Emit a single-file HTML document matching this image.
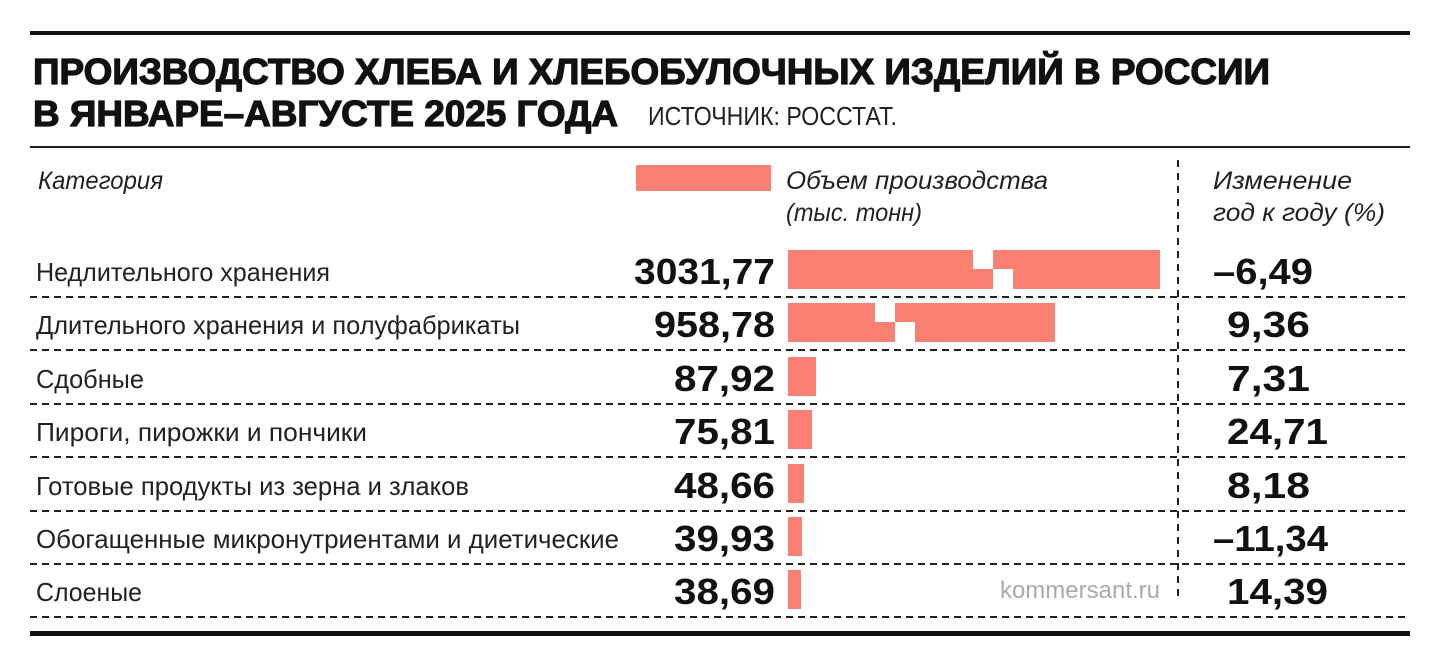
<!DOCTYPE html>
<html><head><meta charset="utf-8"><style>
html,body{margin:0;padding:0;background:#fff;}
svg{display:block;font-family:"Liberation Sans",sans-serif;}
</style></head><body>
<svg width="1440" height="665" viewBox="0 0 1440 665" xmlns="http://www.w3.org/2000/svg">
<rect x="30" y="31" width="1380" height="4" fill="#111"/>
<g font-weight="bold" font-size="36" fill="#111" stroke="#111" stroke-width="1.2">
<text x="33" y="84" textLength="1237" lengthAdjust="spacingAndGlyphs">ПРОИЗВОДСТВО ХЛЕБА И ХЛЕБОБУЛОЧНЫХ ИЗДЕЛИЙ В РОССИИ</text>
<text x="33" y="126" textLength="585" lengthAdjust="spacingAndGlyphs">В ЯНВАРЕ–АВГУСТЕ 2025 ГОДА</text>
</g>
<text x="648" y="125" font-size="26" fill="#222" textLength="249" lengthAdjust="spacingAndGlyphs">ИСТОЧНИК: РОССТАТ.</text>
<rect x="30" y="146" width="1380" height="2" fill="#222"/>
<g font-style="italic" font-size="25" fill="#222">
<text x="38" y="189" textLength="125" lengthAdjust="spacingAndGlyphs">Категория</text>
<text x="786" y="189" textLength="262" lengthAdjust="spacingAndGlyphs">Объем производства</text>
<text x="786" y="221" textLength="136" lengthAdjust="spacingAndGlyphs">(тыс. тонн)</text>
<text x="1213" y="189" textLength="139" lengthAdjust="spacingAndGlyphs">Изменение</text>
<text x="1213" y="221" textLength="172" lengthAdjust="spacingAndGlyphs">год к году (%)</text>
</g>
<rect x="636" y="165" width="135" height="26" fill="#f98072"/>
<line x1="1178" y1="160" x2="1178" y2="602" stroke="#222" stroke-width="2" stroke-dasharray="7,6"/>
<g stroke="#222" stroke-width="2" stroke-dasharray="7,5">
<line x1="30" y1="297" x2="1410" y2="297"/>
<line x1="30" y1="350" x2="1410" y2="350"/>
<line x1="30" y1="404" x2="1410" y2="404"/>
<line x1="30" y1="457" x2="1410" y2="457"/>
<line x1="30" y1="511" x2="1410" y2="511"/>
<line x1="30" y1="564" x2="1410" y2="564"/>
<line x1="30" y1="617" x2="1410" y2="617"/>
</g>
<rect x="30" y="631" width="1380" height="5" fill="#111"/>
<g fill="#f98072">
<rect x="788" y="250" width="372" height="39"/>
<rect x="788" y="303" width="267" height="39"/>
<rect x="788" y="357" width="28" height="39"/>
<rect x="788" y="410" width="24" height="39"/>
<rect x="788" y="464" width="16" height="39"/>
<rect x="788" y="517" width="14" height="39"/>
<rect x="788" y="570" width="13" height="39"/>
</g>
<g fill="#fff">
<rect x="973" y="250" width="20" height="19"/><rect x="993" y="269" width="20" height="20"/>
<rect x="875" y="303" width="20" height="19"/><rect x="895" y="322" width="20" height="20"/>
</g>
<g font-size="26" fill="#222">
<text x="36" y="281" textLength="294" lengthAdjust="spacingAndGlyphs">Недлительного хранения</text>
<text x="36" y="334" textLength="484" lengthAdjust="spacingAndGlyphs">Длительного хранения и полуфабрикаты</text>
<text x="36" y="388" textLength="108" lengthAdjust="spacingAndGlyphs">Сдобные</text>
<text x="36" y="441" textLength="331" lengthAdjust="spacingAndGlyphs">Пироги, пирожки и пончики</text>
<text x="36" y="495" textLength="433" lengthAdjust="spacingAndGlyphs">Готовые продукты из зерна и злаков</text>
<text x="36" y="548" textLength="583" lengthAdjust="spacingAndGlyphs">Обогащенные микронутриентами и диетические</text>
<text x="36" y="601" textLength="106" lengthAdjust="spacingAndGlyphs">Слоеные</text>
</g>
<g font-size="36" font-weight="bold" fill="#111">
<text x="634" y="284" textLength="141" lengthAdjust="spacingAndGlyphs">3031,77</text>
<text x="654" y="337" textLength="121" lengthAdjust="spacingAndGlyphs">958,78</text>
<text x="674" y="391" textLength="101" lengthAdjust="spacingAndGlyphs">87,92</text>
<text x="674" y="444" textLength="101" lengthAdjust="spacingAndGlyphs">75,81</text>
<text x="674" y="498" textLength="101" lengthAdjust="spacingAndGlyphs">48,66</text>
<text x="674" y="551" textLength="101" lengthAdjust="spacingAndGlyphs">39,93</text>
<text x="674" y="604" textLength="101" lengthAdjust="spacingAndGlyphs">38,69</text>
</g>
<g font-size="36" font-weight="bold" fill="#111">
<text x="1213" y="284" textLength="100" lengthAdjust="spacingAndGlyphs">–6,49</text>
<text x="1227" y="337" textLength="83" lengthAdjust="spacingAndGlyphs">9,36</text>
<text x="1227" y="391" textLength="83" lengthAdjust="spacingAndGlyphs">7,31</text>
<text x="1227" y="444" textLength="101" lengthAdjust="spacingAndGlyphs">24,71</text>
<text x="1227" y="498" textLength="83" lengthAdjust="spacingAndGlyphs">8,18</text>
<text x="1213" y="551" textLength="115" lengthAdjust="spacingAndGlyphs">–11,34</text>
<text x="1227" y="604" textLength="101" lengthAdjust="spacingAndGlyphs">14,39</text>
</g>
<text x="1160" y="598" font-size="24" fill="#aaa" text-anchor="end">kommersant.ru</text>
</svg>
</body></html>
